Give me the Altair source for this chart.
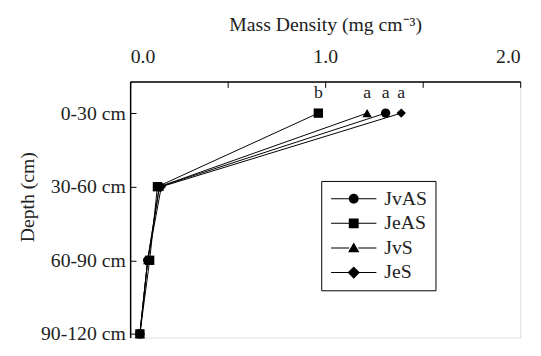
import json
import altair as alt
import pandas as pd

depths = ["0-30 cm", "30-60 cm", "60-90 cm", "90-120 cm"]
depth_idx = [1, 2, 3, 4]
series = ["JvAS", "JeAS", "JvS", "JeS"]
jvas = [1.31, 0.15, 0.09, 0.05]
jeas = [0.965, 0.14, 0.10, 0.05]
jvs = [1.215, 0.15, 0.09, 0.05]
jes = [1.39, 0.16, 0.09, 0.05]
letters = ["a", "b", "a", "a"]
marker_shapes = ["circle", "square", "triangle-up", "diamond"]
x_tick_vals = [0, 0.5, 1, 1.5, 2]

FONT = "Liberation Serif, Times New Roman, Times, serif"
INK = "#222222"

vals = {"JvAS": jvas, "JeAS": jeas, "JvS": jvs, "JeS": jes}
rows = []
for s in series:
    for d, v in zip(depth_idx, vals[s]):
        rows.append({"series": s, "depth": d, "val": v})
df = pd.DataFrame(rows)
ann = pd.DataFrame({"series": series, "depth": [1] * 4,
                    "val": [vals[s][0] for s in series], "letter": letters})

xs = alt.Scale(domain=[0, 2], nice=False, zero=False)
ys = alt.Scale(domain=[0.57, 4.05], nice=False, zero=False, reverse=True)

inward = {"expr": "-6"}
xaxis = alt.Axis(orient="top", values=x_tick_vals,
                 labelExpr="datum.value % 1 === 0 ? format(datum.value, '.1f') : ''",
                 ticks=True, tickSize=inward, tickColor="black", tickWidth=1,
                 grid=False, domain=True, domainColor="black", domainWidth=1.5,
                 labelFont=FONT, labelFontSize=20, labelColor=INK, labelPadding=21,
                 title="Mass Density (mg cm\u207b\u00b3)", titleFont=FONT,
                 titleFontSize=20, titleFontWeight="normal", titleColor=INK,
                 titlePadding=13)
label_expr = json.dumps(depths) + "[datum.value - 1]"
yaxis = alt.Axis(orient="left", values=depth_idx, labelExpr=label_expr,
                 ticks=True, tickSize=inward, tickColor="black", tickWidth=1,
                 grid=False, domain=True, domainColor="black", domainWidth=1.5,
                 labelFont=FONT, labelFontSize=20, labelColor=INK, labelPadding=11,
                 title="Depth (cm)", titleFont=FONT, titleFontSize=20,
                 titleFontWeight="normal", titleColor=INK, titleX=-104, titleY=117,
                 titleBaseline="middle")

X = alt.X("val:Q", scale=xs, axis=xaxis)
Y = alt.Y("depth:Q", scale=ys, axis=yaxis)

lines = alt.Chart(df).mark_line(color="black", strokeWidth=1).encode(
    x=X, y=Y, detail="series:N", order="depth:Q")

point_layers = []
for s, shp in zip(series, marker_shapes):
    point_layers.append(
        alt.Chart(df).transform_filter(alt.datum.series == s)
        .mark_point(shape=shp, filled=True, color="black", size=90, opacity=1)
        .encode(x=X, y=Y))

# legend glyphs: a short horizontal bar (as filled strips) with the marker in the middle
bar = "M-4.6,-0.1H-0.9V0.1H-4.6ZM0.9,-0.1H4.6V0.1H0.9Z"
legend_paths = [
    bar + "M1,0A1,1,0,1,1,-1,0A1,1,0,1,1,1,0Z",
    bar + "M-1,-1H1V1H-1Z",
    bar + "M0,-1.1L1.15,0.9H-1.15Z",
    bar + "M0,-1.25L1.25,0L0,1.25L-1.25,0Z",
]
leg = alt.Chart(df).mark_point(filled=True, color="black", size=100, opacity=0).encode(
    x=X, y=Y,
    shape=alt.Shape("series:N", scale=alt.Scale(domain=series, range=legend_paths),
                    legend=alt.Legend(title=None, orient="none", legendX=194, legendY=101,
                                      strokeColor="black", padding=8, symbolSize=100,
                                      symbolOffset=15, labelOffset=21, rowPadding=5,
                                      labelFont=FONT, labelFontSize=20, labelColor=INK,
                                      symbolFillColor="black", symbolStrokeWidth=0,
                                      symbolOpacity=1)))

text = alt.Chart(ann).mark_text(baseline="alphabetic", dy=-15, font=FONT,
                                fontSize=18, color=INK).encode(
    x=X, y=Y, text="letter:N")

chart = alt.layer(lines, *point_layers, leg, text).properties(
    width=396, height=260,
    autosize=alt.AutoSizeParams(type="none"),
    padding={"left": 124, "top": 72, "right": 13, "bottom": 8},
).configure_view(strokeWidth=0).configure(background="white")

chart.save("out.html", embed_options={"renderer": "svg", "actions": False})
